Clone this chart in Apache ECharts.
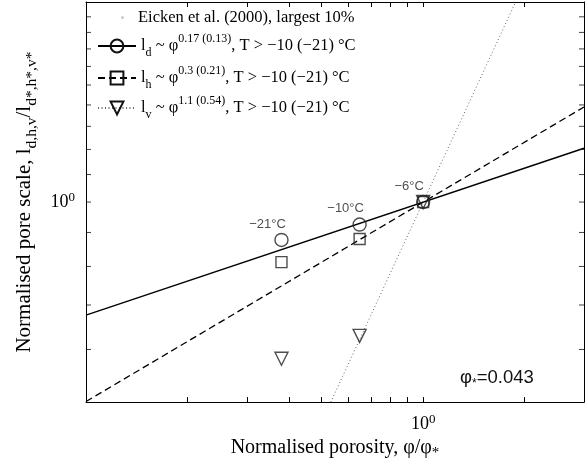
<!DOCTYPE html>
<html>
<head>
<meta charset="utf-8">
<script src="https://cdn.jsdelivr.net/npm/echarts@6/dist/echarts.min.js"></script>
<style>
  html, body { margin: 0; padding: 0; background: #fff; }
  #main { width: 588px; height: 466px; }
</style>
</head>
<body>
<div id="main"></div>
<script>
// temperatures of the three samples
var temps = ['\u221221\u00b0C', '\u221210\u00b0C', '\u22126\u00b0C'];
var porosity = [0.38, 0.648, 1];          // phi / phi*
var ldPts = [0.877, 0.925, 1];            // circles
var lhPts = [0.812, 0.880, 1];            // squares
var lvPts = [0.581, 0.629, 1];            // triangles

// fitted power laws, end points
var ldFit = [[0.1, 0.676], [3, 1.205]];
var lhFit = [[0.1, 0.501], [3, 1.39]];
var lvFit = [[0.532, 0.5], [1.88, 2]];

var xTicks = [0.1, 0.2, 0.3, 0.4, 0.5, 0.6, 0.7, 0.8, 0.9, 1, 2, 3];
var yTicks = [0.6, 0.7, 0.8, 0.9, 1, 1.1, 1.2, 1.3, 1.4, 1.5, 1.6, 1.7, 1.8, 1.9];
var labelTicks = [1];
var xMin = 0.1, xMax = 3, yMin = 0.5, yMax = 2;

var serif = 'Liberation Serif';
var sans = 'Liberation Sans';

function pts(ys) {
    return porosity.map(function(x, i) { return { name: temps[i], value: [x, ys[i]] }; });
}

var legendRich = {
    n: { fontFamily: serif, fontSize: 16.5, color: '#000', lineHeight: 26 },
    sub: { fontFamily: serif, fontSize: 12, color: '#000', lineHeight: 12, verticalAlign: 'bottom' },
    sup: { fontFamily: serif, fontSize: 12, color: '#000', lineHeight: 12, verticalAlign: 'top' },
    g: { width: 9 }
};

var legendText = {
    'Eicken': '{g| }{n|Eicken et al. (2000), largest 10%}',
    'ld': '{n|l}{sub|d}{n| ~ \u03c6}{sup|0.17 (0.13)}{n|, T > \u221210 (\u221221) \u00b0C}',
    'lh': '{n|l}{sub|h}{n| ~ \u03c6}{sup|0.3 (0.21)}{n|, T > \u221210 (\u221221) \u00b0C}',
    'lv': '{n|l}{sub|v}{n| ~ \u03c6}{sup|1.1 (0.54)}{n|, T > \u221210 (\u221221) \u00b0C}'
};

function legendRow(name, top, left, w, h) {
    return {
        data: [name],
        top: top,
        left: left,
        padding: 0,
        itemWidth: w,
        itemHeight: h,
        selectedMode: false,
        formatter: function(n) { return legendText[n]; },
        textStyle: { rich: legendRich }
    };
}

// frame axis: just the line
function logAxis(pos, min, max) {
    return {
        type: 'log',
        logBase: 10,
        position: pos,
        min: min,
        max: max,
        axisLine: { show: true, onZero: false, lineStyle: { color: '#000', width: 1 } },
        axisTick: { show: false },
        minorTick: { show: false },
        splitLine: { show: false },
        minorSplitLine: { show: false },
        splitArea: { show: false },
        axisLabel: { show: false }
    };
}

function withTicks(ax, ticks) {
    ax.axisTick = { show: true, inside: true, length: 5, customValues: ticks, lineStyle: { color: '#000' } };
    return ax;
}

function withLabel(ax) {
    ax.axisLabel = {
        show: true,
        customValues: labelTicks,
        margin: 11,
        formatter: function() { return '{b|10}{s|0}'; },
        rich: {
            b: { fontFamily: serif, fontSize: 18, color: '#000', lineHeight: 22 },
            s: { fontFamily: serif, fontSize: 13, color: '#000', lineHeight: 12, verticalAlign: 'top' }
        }
    };
    return ax;
}

var xBottom = withLabel(withTicks(logAxis('bottom', xMin, xMax), xTicks));
xBottom.name = '{n|Normalised porosity, \u03c6/\u03c6}{sub|*}';
xBottom.nameLocation = 'middle';
xBottom.nameGap = 30;
xBottom.nameTextStyle = {
    rich: {
        n: { fontFamily: serif, fontSize: 20, color: '#000', lineHeight: 26 },
        sub: { fontFamily: serif, fontSize: 15, color: '#000', lineHeight: 12, verticalAlign: 'bottom' }
    }
};

var yLeft = withLabel(logAxis('left', yMin, yMax));
yLeft.name = '{n|Normalised pore scale, l}{sub|d,h,v}{n|/l}{sub|d*,h*,v*}';
yLeft.nameLocation = 'middle';
yLeft.nameRotate = 90;
yLeft.nameGap = 44;
yLeft.nameTextStyle = {
    rich: {
        n: { fontFamily: serif, fontSize: 21, color: '#000', lineHeight: 30 },
        sub: { fontFamily: serif, fontSize: 15.5, color: '#000', lineHeight: 14, verticalAlign: 'bottom' }
    }
};

// y ticks on both sides of the box, drawn as small marks at the axis edges
function yTickMarks(xEdge, dir) {
    return {
        type: 'scatter', silent: true, z: 3,
        data: yTicks.map(function(v) { return [xEdge, v]; }),
        symbol: 'rect', symbolSize: [5, 1], symbolOffset: [2.5 * dir, 0],
        itemStyle: { color: '#111' }
    };
}

var chart = echarts.init(document.getElementById('main'));
chart.setOption({
    animation: false,
    backgroundColor: '#fff',
    grid: { left: 86, top: 2, right: 4, bottom: 60, containLabel: false },
    xAxis: [xBottom, withTicks(logAxis('top', xMin, xMax), xTicks)],
    yAxis: [yLeft, logAxis('right', yMin, yMax)],
    legend: [
        legendRow('Eicken', 9, 121, 3, 3),
        legendRow('ld', 33, 97, 38, 16),
        legendRow('lh', 65, 97, 38, 16),
        legendRow('lv', 95, 97, 38, 16)
    ],
    graphic: [{
        type: 'text',
        left: 460,
        top: 368,
        style: {
            text: '{a|\u03c6}{s|*}{a|=0.043}',
            rich: {
                a: { fontFamily: sans, fontSize: 18.5, fill: '#111', lineHeight: 24 },
                s: { fontFamily: sans, fontSize: 12, fill: '#111', lineHeight: 12, verticalAlign: 'bottom' }
            }
        }
    }],
    series: [
        yTickMarks(xMin, 1),
        yTickMarks(xMax, -1),
        {
            name: 'Eicken', type: 'scatter', data: [],
            symbol: 'circle', symbolSize: 3, itemStyle: { color: '#bbb' }
        },
        {
            name: 'ld', type: 'line', data: ldFit, showSymbol: false,
            symbol: 'circle', symbolSize: 13,
            itemStyle: { color: 'transparent', borderColor: '#111', borderWidth: 1.4 },
            lineStyle: { color: '#000', width: 1.4, type: 'solid' }
        },
        {
            name: 'lh', type: 'line', data: lhFit, showSymbol: false,
            symbol: 'rect', symbolSize: 11,
            itemStyle: { color: 'transparent', borderColor: '#111', borderWidth: 1.4 },
            lineStyle: { color: '#000', width: 1.3, type: [7, 4] }
        },
        {
            name: 'lv', type: 'line', data: lvFit, showSymbol: false,
            symbol: 'triangle', symbolRotate: 180, symbolSize: 13,
            itemStyle: { color: 'transparent', borderColor: '#111', borderWidth: 1.4 },
            lineStyle: { color: '#666', width: 1, type: [1, 2.5] }
        },
        {
            name: 'ld pts', type: 'scatter', data: pts(ldPts),
            symbol: 'circle', symbolSize: 13, z: 5,
            itemStyle: { color: 'transparent', borderColor: '#222', borderWidth: 1.4 },
            label: {
                show: true, position: 'top', distance: 2, offset: [-14, 0],
                formatter: '{b}', fontFamily: sans, fontSize: 13, color: '#222'
            }
        },
        {
            name: 'lh pts', type: 'scatter', data: pts(lhPts),
            symbol: 'rect', symbolSize: 11, z: 5,
            itemStyle: { color: 'transparent', borderColor: '#222', borderWidth: 1.4 }
        },
        {
            name: 'lv pts', type: 'scatter', data: pts(lvPts),
            symbol: 'triangle', symbolRotate: 180, symbolSize: 13, z: 5,
            itemStyle: { color: 'transparent', borderColor: '#222', borderWidth: 1.4 }
        }
    ]
});
</script>
</body>
</html>
